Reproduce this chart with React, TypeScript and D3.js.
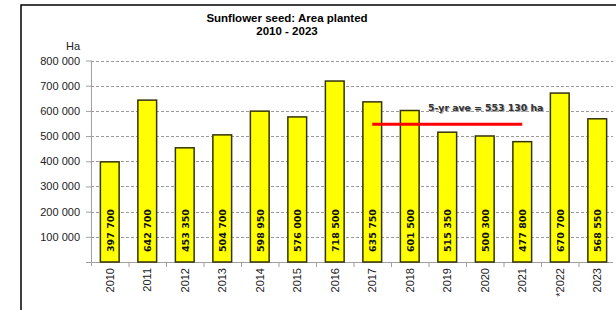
import React, { useEffect, useRef } from "react";
import * as d3 from "d3";

const years = ["2010", "2011", "2012", "2013", "2014", "2015", "2016", "2017", "2018", "2019", "2020", "2021", "*2022", "2023"];
const hectares = [397700, 642700, 453350, 504700, 598950, 576000, 718500, 635750, 601500, 515350, 500300, 477800, 670700, 568550];
const yTicks = [100000, 200000, 300000, 400000, 500000, 600000, 700000, 800000];
const aveYears = ["2017", "2021"];
const aveValue = 553130;

const fmt = (v: number) => d3.format(",")(v).replace(/,/g, " ");

const App = () => {
  const ref = useRef<SVGSVGElement>(null);

  useEffect(() => {
    const svg = d3.select(ref.current);
    svg.selectAll("*").remove();

    const width = 616,
      height = 310;
    const left = 91,
      right = 616,
      top = 60.5,
      bottom = 262;

    // frame
    svg.append("path")
      .attr("d", `M21,${height} V5 H${width}`)
      .attr("fill", "none")
      .attr("stroke", "#000")
      .attr("stroke-width", 1.5);

    svg.append("text")
      .attr("x", 287)
      .attr("y", 22)
      .attr("text-anchor", "middle")
      .style("font", "bold 11.5px 'Liberation Sans', Arial, sans-serif")
      .text("Sunflower seed: Area planted");
    svg.append("text")
      .attr("x", 287)
      .attr("y", 35)
      .attr("text-anchor", "middle")
      .style("font", "bold 11.5px 'Liberation Sans', Arial, sans-serif")
      .text("2010 - 2023");

    const x = d3.scaleBand().domain(years).range([left, right]).paddingInner(0.5).paddingOuter(0.25);
    const band = d3.scaleBand().domain(years).range([left, right]);
    const y = d3.scaleLinear().domain([0, 800000]).range([bottom, top]);

    // grid
    svg.append("g")
      .selectAll("line")
      .data(yTicks)
      .join("line")
      .attr("x1", left)
      .attr("x2", 613)
      .attr("y1", (d) => Math.round(y(d)) + 0.5)
      .attr("y2", (d) => Math.round(y(d)) + 0.5)
      .attr("stroke", "#9a9a9a")
      .attr("stroke-dasharray", "3,2");

    // y axis
    const yAxis = svg.append("g")
      .attr("transform", `translate(${left},0)`)
      .call(d3.axisLeft(y).tickValues([0, ...yTicks]).tickSize(5).tickFormat((d) => (+d === 0 ? "" : fmt(+d))));
    yAxis.select(".domain").attr("stroke", "#a0a0a0").attr("d", `M0.5,${top}V${bottom + 4}`);
    yAxis.selectAll(".tick line").attr("stroke", "#a0a0a0");
    yAxis.selectAll(".tick text")
      .attr("x", -11)
      .style("font", "11px 'Liberation Sans', Arial, sans-serif")
      .attr("fill", "#222");

    svg.append("text")
      .attr("x", 80)
      .attr("y", 50)
      .attr("text-anchor", "end")
      .style("font", "11px 'Liberation Sans', Arial, sans-serif")
      .attr("fill", "#222")
      .text("Ha");

    // x axis
    const xg = svg.append("g");
    xg.append("line")
      .attr("x1", left - 5)
      .attr("x2", 613)
      .attr("y1", bottom + 0.5)
      .attr("y2", bottom + 0.5)
      .attr("stroke", "#a0a0a0");
    xg.selectAll("line.tk")
      .data(years.slice(1))
      .join("line")
      .attr("class", "tk")
      .attr("x1", (d) => band(d)! + 0.5)
      .attr("x2", (d) => band(d)! + 0.5)
      .attr("y1", bottom)
      .attr("y2", bottom + 5)
      .attr("stroke", "#a0a0a0");
    xg.selectAll("text")
      .data(years)
      .join("text")
      .attr("transform", (d) => `translate(${x(d)! + x.bandwidth() / 2 + 4},${bottom + 6}) rotate(-90)`)
      .attr("text-anchor", "end")
      .style("font", "11px 'Liberation Sans', Arial, sans-serif")
      .attr("fill", "#222")
      .text((d) => d);

    // bars
    const bars = svg.append("g");
    bars.selectAll("rect")
      .data(hectares)
      .join("rect")
      .attr("x", (d, i) => x(years[i])!)
      .attr("y", (d) => y(d))
      .attr("width", x.bandwidth())
      .attr("height", (d) => bottom - y(d))
      .attr("fill", "#ffff00")
      .attr("stroke", "#33330a")
      .attr("stroke-width", 1.5);

    bars.selectAll("text")
      .data(hectares)
      .join("text")
      .attr("transform", (d, i) => `translate(${x(years[i])! + x.bandwidth() / 2 + 4},${bottom - 10}) rotate(-90)`)
      .attr("text-anchor", "start")
      .style("font", "bold 9.5px 'DejaVu Sans', Verdana, sans-serif")
      .attr("fill", "#111")
      .text((d) => fmt(d));

    // 5-yr average
    const ax1 = x(aveYears[0])! + x.bandwidth() / 2;
    const ax2 = x(aveYears[1])! + x.bandwidth() / 2;
    svg.append("line")
      .attr("x1", ax1)
      .attr("x2", ax2)
      .attr("y1", y(aveValue) + 1.5)
      .attr("y2", y(aveValue) + 1.5)
      .attr("stroke", "#ff0000")
      .attr("stroke-width", 3);

    const label = `5-yr ave = ${fmt(aveValue)} ha`;
    svg.append("text")
      .attr("x", 429)
      .attr("y", 112)
      .style("font", "bold 9.3px 'DejaVu Sans', Verdana, sans-serif")
      .attr("fill", "#aaa")
      .text(label);
    svg.append("text")
      .attr("x", 428)
      .attr("y", 111)
      .style("font", "bold 9.3px 'DejaVu Sans', Verdana, sans-serif")
      .attr("fill", "#333")
      .text(label);
  }, []);

  return (
    <svg
      ref={ref}
      width={616}
      height={310}
      style={{ position: "absolute", left: 0, top: 0, background: "#fff" }}
    />
  );
};

export default App;
